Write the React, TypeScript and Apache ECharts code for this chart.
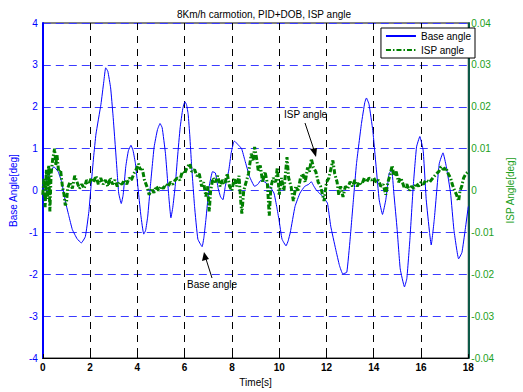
import React, { useEffect, useRef } from "react";
import * as echarts from "echarts";

const TITLE = "8Km/h carmotion, PID+DOB, ISP angle";
const X_NAME = "Time[s]";
const LEFT_NAME = "Base Angle[deg]";
const RIGHT_NAME = "ISP Angle[deg]";
const SERIES_NAMES = ["Base angle", "ISP angle"];

const baseTime = [
  0.0, 0.1, 0.25, 0.47, 0.65, 0.8, 0.93, 1.1, 1.25, 1.45, 1.63, 1.8, 1.95, 2.04, 2.15, 2.25, 2.46, 2.58, 2.66, 2.75,
  2.87, 2.97, 3.07, 3.15, 3.21, 3.32, 3.4, 3.51, 3.62, 3.73, 3.82, 3.92, 4.05, 4.15, 4.27, 4.35, 4.44, 4.55, 4.71, 4.85,
  4.96, 5.05, 5.19, 5.33, 5.42, 5.5, 5.6, 5.7, 5.81, 5.92, 6.01, 6.08, 6.15, 6.22, 6.29, 6.42, 6.56, 6.74, 6.82, 6.9,
  7.04, 7.18, 7.3, 7.42, 7.52, 7.62, 7.72, 7.87, 7.97, 8.07, 8.11, 8.25, 8.41, 8.55, 8.75, 8.96, 9.1, 9.23, 9.4, 9.6,
  9.78, 9.9, 9.99, 10.12, 10.29, 10.38, 10.47, 10.67, 10.88, 11.08, 11.25, 11.36, 11.45, 11.56, 11.84, 12.04, 12.18, 12.39, 12.55, 12.69,
  12.86, 13.0, 13.14, 13.27, 13.48, 13.62, 13.69, 13.8, 13.96, 14.1, 14.23, 14.37, 14.51, 14.65, 14.76, 14.85, 14.99, 15.12, 15.3, 15.4,
  15.53, 15.67, 15.81, 15.95, 16.09, 16.22, 16.36, 16.43, 16.56, 16.77, 16.93, 17.07, 17.25, 17.39, 17.59, 17.73, 17.87, 18.0,
];
const baseValue = [
  0.0, 0.15, 0.35, 0.57, 0.45, 0.2, -0.2, -0.6, -0.93, -1.15, -1.25, -1.1, -0.5, 0.1, 0.8, 1.35, 2.06, 2.6, 2.93, 2.85,
  2.45, 1.8, 1.04, 0.4, -0.06, -0.31, -0.1, 0.57, 0.95, 1.08, 0.95, 0.64, -0.06, -0.6, -1.04, -0.95, -0.61, 0.1, 1.04, 1.45,
  1.6, 1.5, 0.88, -0.14, -0.65, -0.4, 0.1, 0.8, 1.5, 1.95, 2.12, 2.05, 1.82, 1.3, 0.64, -0.38, -1.16, -1.34, -1.1, -0.69,
  0.1, 0.45, 0.42, 0.05, -0.15, -0.22, 0.1, 0.49, 0.9, 1.15, 1.18, 1.1, 1.0, 0.72, 0.33, 0.1, 0.15, 0.25, 0.2, 0.1,
  -0.06, -0.4, -0.69, -1.16, -1.32, -1.2, -1.0, -0.38, -0.06, 0.1, 0.15, 0.21, 0.12, 0.02, -0.14, -0.3, -0.85, -1.4, -1.79, -1.99,
  -1.95, -1.16, -0.22, 0.64, 1.6, 2.1, 2.21, 2.06, 1.43, 0.57, -0.22, -0.57, -0.22, 0.41, 0.49, -0.06, -0.93, -1.87, -2.3, -2.1,
  -1.16, 0.1, 1.04, 1.29, 0.96, -0.22, -1.0, -1.3, -0.69, 0.64, 0.9, 0.57, -0.06, -0.93, -1.63, -1.48, -0.93, -0.38,
];

const ispTime = [
  0.0, 0.05, 0.1, 0.15, 0.2, 0.25, 0.3, 0.35, 0.42, 0.5, 0.55, 0.6, 0.67, 0.75, 0.83, 0.9, 0.95, 1.0, 1.05, 1.15,
  1.25, 1.35, 1.45, 1.55, 1.65, 1.75, 1.85, 1.95, 2.05, 2.15, 2.25, 2.35, 2.45, 2.55, 2.65, 2.75, 2.85, 2.95, 3.05, 3.15,
  3.25, 3.35, 3.45, 3.55, 3.65, 3.75, 3.85, 3.95, 4.05, 4.12, 4.2, 4.3, 4.4, 4.5, 4.6, 4.7, 4.8, 4.9, 5.0, 5.1,
  5.2, 5.3, 5.4, 5.5, 5.6, 5.7, 5.8, 5.9, 6.0, 6.1, 6.22, 6.3, 6.42, 6.52, 6.62, 6.72, 6.8, 6.9, 6.97, 7.04,
  7.1, 7.2, 7.3, 7.4, 7.5, 7.6, 7.7, 7.8, 7.9, 8.0, 8.1, 8.2, 8.3, 8.38, 8.42, 8.5, 8.6, 8.7, 8.82, 8.9,
  8.96, 9.05, 9.12, 9.2, 9.3, 9.4, 9.5, 9.58, 9.65, 9.75, 9.85, 9.92, 10.0, 10.1, 10.2, 10.33, 10.4, 10.5, 10.6, 10.7,
  10.8, 10.9, 11.0, 11.1, 11.2, 11.28, 11.36, 11.45, 11.55, 11.65, 11.75, 11.9, 12.0, 12.1, 12.2, 12.27, 12.35, 12.45, 12.52, 12.6,
  12.7, 12.8, 12.9, 13.0, 13.1, 13.2, 13.3, 13.4, 13.5, 13.6, 13.7, 13.8, 13.9, 14.0, 14.1, 14.2, 14.3, 14.4, 14.51, 14.6,
  14.7, 14.78, 14.85, 14.95, 15.05, 15.15, 15.3, 15.4, 15.5, 15.6, 15.7, 15.81, 15.9, 16.0, 16.1, 16.2, 16.36, 16.5, 16.65, 16.75,
  16.84, 16.95, 17.05, 17.15, 17.25, 17.32, 17.42, 17.5, 17.59, 17.65, 17.72, 17.8, 17.9, 18.0,
];
const ispValue = [
  -0.001, 0.003, -0.004, 0.005, -0.002, 0.006, -0.005, 0.004, 0.0075, 0.01, 0.006, 0.0085, 0.0045, 0.005, 0.001, -0.001, -0.0035, -0.003, 0.0005, 0.002,
  0.0005, 0.0035, 0.002, 0.0005, 0.0015, 0.0005, 0.0025, 0.0015, 0.003, 0.002, 0.0035, 0.0015, 0.003, 0.0015, 0.0025, 0.001, 0.003, 0.0015, 0.0025, 0.001,
  0.002, 0.0015, 0.0025, 0.0015, 0.003, 0.0025, 0.004, 0.005, 0.0064, 0.005, 0.0055, 0.0025, 0.001, -0.001, 0.0005, -0.0005, 0.001, 0.0, 0.001, 0.0005,
  0.0015, 0.001, 0.002, 0.0015, 0.0025, 0.003, 0.0025, 0.0045, 0.004, 0.0055, 0.0064, 0.0045, 0.005, 0.0035, 0.004, 0.001, 0.002, -0.0014, 0.001, -0.005,
  0.0, 0.003, 0.002, 0.0035, 0.001, 0.0025, 0.0015, 0.0041, 0.001, 0.0, 0.003, 0.001, 0.0035, -0.003, -0.0055, 0.0, 0.002, 0.004, 0.0088, 0.007,
  0.0104, 0.0075, 0.0045, 0.006, 0.002, 0.0045, 0.0017, -0.006, 0.001, 0.003, 0.002, 0.0055, -0.001, 0.003, 0.0, 0.008, 0.003, 0.001, -0.0025, 0.001,
  0.0, 0.003, 0.004, 0.002, 0.0055, 0.0045, 0.0076, 0.0055, 0.0045, 0.002, 0.001, -0.0025, 0.002, 0.003, 0.0055, 0.0072, 0.004, 0.002, -0.001, 0.001,
  -0.0015, 0.001, 0.0005, 0.0021, 0.001, 0.0025, 0.001, 0.002, 0.0015, 0.003, 0.002, 0.003, 0.0025, 0.003, 0.002, 0.0025, 0.001, 0.0015, -0.001, 0.002,
  0.004, 0.006, 0.0035, 0.0045, 0.002, 0.003, 0.0005, 0.0015, 0.0, 0.001, 0.0005, 0.0017, 0.001, 0.002, 0.0015, 0.0025, 0.002, 0.003, 0.004, 0.0045,
  0.0057, 0.005, 0.0055, 0.004, 0.003, 0.0015, 0.0, -0.001, -0.0025, 0.0, 0.001, 0.003, 0.004, 0.0045,
];

const xTicks = { min: 0, max: 18, interval: 2 };
const leftTicks = { min: -4, max: 4, interval: 1 };
const rightTicks = { min: -0.04, max: 0.04, interval: 0.01 };

const FONT = "'Liberation Sans', Arial, sans-serif";
const BLUE = "#0000ff";
const GREEN = "#008000";
const GREEN_LABEL = "#22a022";

export default function App() {
  const ref = useRef<HTMLDivElement>(null);
  useEffect(() => {
    if (!ref.current) return;
    const chart = echarts.init(ref.current, undefined, { renderer: "svg" });
    const baseData = baseTime.map((t, i) => [t, baseValue[i]]);
    const ispData = ispTime.map((t, i) => [t, ispValue[i]]);
    const arrowText = { fontSize: 10, fontFamily: FONT, fill: "#000" };
    chart.setOption({
      animation: false,
      backgroundColor: "#fff",
      textStyle: { fontFamily: FONT },
      title: {
        text: TITLE,
        left: 259,
        textAlign: "center",
        top: 4,
        textStyle: { fontSize: 10, fontWeight: "normal", color: "#000", fontFamily: FONT },
      },
      grid: {
        left: 40,
        right: 45,
        top: 23,
        bottom: 30,
        show: true,
        borderColor: "#000",
        borderWidth: 1,
        backgroundColor: "#fff",
      },
      legend: {
        orient: "vertical",
        right: 48,
        top: 28,
        itemWidth: 30,
        itemHeight: 11,
        itemGap: 4,
        padding: [3, 4, 3, 4],
        borderColor: "#000",
        borderWidth: 1,
        borderRadius: 0,
        backgroundColor: "#fff",
        itemStyle: { opacity: 0 },
        textStyle: { fontSize: 10, color: "#000", fontFamily: FONT },
        data: SERIES_NAMES,
      },
      xAxis: {
        type: "value",
        ...xTicks,
        name: X_NAME,
        nameLocation: "middle",
        nameGap: 17,
        nameTextStyle: { fontSize: 10, color: "#000", fontFamily: FONT },
        axisLine: { show: true, onZero: false, lineStyle: { color: "#000", width: 1 } },
        axisTick: { show: true, inside: true, length: 4, lineStyle: { color: "#000" } },
        axisLabel: { fontSize: 10, color: "#000", fontWeight: "bold", margin: 4, fontFamily: FONT },
        splitLine: { show: true, lineStyle: { color: "#000", type: [7, 6], width: 1 } },
      },
      yAxis: [
        {
          type: "value",
          ...leftTicks,
          position: "left",
          name: LEFT_NAME,
          nameLocation: "middle",
          nameRotate: 90,
          nameGap: 17,
          nameTextStyle: { fontSize: 10, color: BLUE, fontFamily: FONT },
          axisLine: { show: true, onZero: false, lineStyle: { color: BLUE, width: 2 } },
          axisTick: { show: false },
          axisLabel: { fontSize: 10, color: BLUE, margin: 5, fontFamily: FONT },
          splitLine: { show: true, lineStyle: { color: "#3a3aff", type: [8, 5], width: 1 } },
        },
        {
          type: "value",
          ...rightTicks,
          position: "right",
          name: RIGHT_NAME,
          nameLocation: "middle",
          nameRotate: 90,
          nameGap: 32,
          nameTextStyle: { fontSize: 10, color: GREEN_LABEL, fontFamily: FONT },
          axisLine: { show: true, onZero: false, lineStyle: { color: "#0d5a48", width: 2 } },
          axisTick: { show: false },
          axisLabel: {
            fontSize: 10,
            color: GREEN_LABEL,
            margin: 3,
            fontFamily: FONT,
            formatter: (v: number) => String(+v.toFixed(2)),
          },
          splitLine: { show: false },
        },
      ],
      series: [
        {
          name: SERIES_NAMES[0],
          type: "line",
          yAxisIndex: 0,
          data: baseData,
          symbol: "none",
          smooth: 0.12,
          lineStyle: { color: BLUE, width: 1 },
          itemStyle: { color: BLUE },
          z: 3,
        },
        {
          name: SERIES_NAMES[1],
          type: "line",
          yAxisIndex: 1,
          data: ispData,
          symbol: "none",
          lineStyle: { color: GREEN, width: 3, type: [5, 2, 1.5, 2] },
          itemStyle: { color: GREEN },
          z: 4,
        },
      ],
      graphic: [
        { type: "text", left: 284, top: 109, style: { text: "ISP angle", ...arrowText }, z: 10 },
        { type: "line", shape: { x1: 305, y1: 123, x2: 314, y2: 150 }, style: { stroke: "#000", lineWidth: 1 }, z: 10 },
        { type: "polygon", shape: { points: [[316, 157], [310, 149], [317, 148]] }, style: { fill: "#000" }, z: 10 },
        { type: "text", left: 187, top: 279, style: { text: "Base angle", ...arrowText }, z: 10 },
        { type: "line", shape: { x1: 212, y1: 278, x2: 206, y2: 259 }, style: { stroke: "#000", lineWidth: 1 }, z: 10 },
        { type: "polygon", shape: { points: [[204, 252], [202, 261], [209, 259]] }, style: { fill: "#000" }, z: 10 },
      ],
    });
    return () => chart.dispose();
  }, []);
  return <div ref={ref} style={{ width: 523, height: 392, position: "absolute", left: 0, top: 0 }} />;
}
